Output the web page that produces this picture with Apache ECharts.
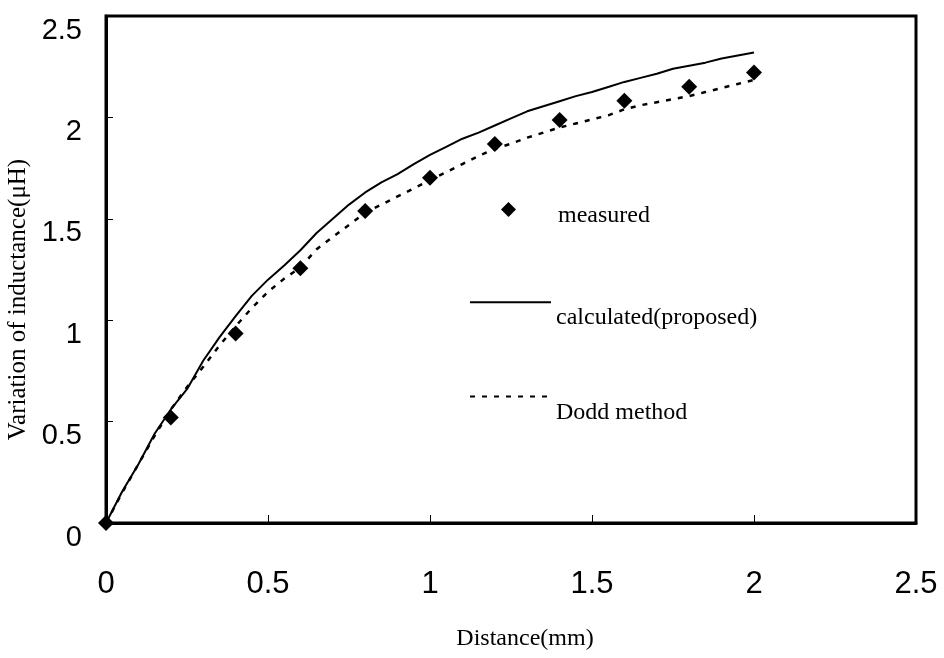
<!DOCTYPE html>
<html>
<head>
<meta charset="utf-8">
<script src="https://cdn.jsdelivr.net/npm/echarts@6/dist/echarts.min.js"></script>
<style>html,body{margin:0;padding:0;background:#fff}#c{width:944px;height:658px}</style>
</head>
<body>
<div id="c"></div>
<script>
// Distance (mm) sample points for the two calculated curves
const curveX = [0,0.05,0.1,0.15,0.2,0.25,0.3,0.35,0.4,0.45,0.5,0.55,0.6,0.65,0.7,0.75,0.8,0.85,0.9,0.95,1.0,1.05,1.1,1.15,1.2,1.25,1.3,1.35,1.4,1.45,1.5,1.55,1.6,1.65,1.7,1.75,1.8,1.85,1.9,1.95,2.0];
const calculatedVals = [0,0.155,0.29,0.44,0.56,0.66,0.80,0.915,1.02,1.12,1.20,1.27,1.345,1.43,1.50,1.57,1.63,1.68,1.72,1.77,1.815,1.855,1.895,1.925,1.96,1.995,2.03,2.055,2.08,2.105,2.125,2.15,2.175,2.195,2.215,2.24,2.255,2.27,2.29,2.305,2.32];
const doddVals = [0,0.15,0.29,0.43,0.56,0.67,0.77,0.875,0.97,1.06,1.14,1.205,1.26,1.35,1.41,1.47,1.53,1.57,1.61,1.65,1.69,1.73,1.77,1.81,1.845,1.87,1.90,1.925,1.95,1.97,1.99,2.01,2.04,2.06,2.075,2.09,2.105,2.125,2.145,2.165,2.185];
// Measured points
const measuredX = [0,0.2,0.4,0.6,0.8,1.0,1.2,1.4,1.6,1.8,2.0];
const measuredVals = [0,0.52,0.935,1.256,1.538,1.703,1.869,1.987,2.082,2.151,2.222];
const seriesNames = ['measured','calculated(proposed)','Dodd method'];

const zip = (xs, ys) => xs.map((x, i) => [x, ys[i]]);
const legendText = {fontFamily: 'Liberation Serif', fontSize: 24, color: '#000'};

const chart = echarts.init(document.getElementById('c'));
chart.setOption({
  animation: false,
  backgroundColor: '#fff',
  grid: {left: 106, right: 28, top: 16, bottom: 135, show: true, borderColor: '#000', borderWidth: 3, outerBoundsMode: 'none'},
  legend: [
    {
      orient: 'vertical', left: 501, top: 202, padding: 0, itemWidth: 15, itemHeight: 15,
      data: [seriesNames[0]],
      formatter: '{a|{name}}',
      textStyle: {rich: {a: Object.assign({padding: [12, 0, 0, 37]}, legendText)}}
    },
    {
      orient: 'vertical', left: 469, top: 297, padding: 0, itemWidth: 81, itemHeight: 13, itemGap: 61,
      data: [seriesNames[1], seriesNames[2]],
      itemStyle: {opacity: 0},
      formatter: '{a|{name}}',
      textStyle: {rich: {a: Object.assign({padding: [32, 0, 0, 0]}, legendText)}}
    }
  ],
  xAxis: {
    type: 'value', min: 0, max: 2.5, interval: 0.5,
    name: 'Distance(mm)', nameLocation: 'middle', nameGap: 104,
    nameTextStyle: {fontFamily: 'Liberation Serif', fontSize: 24, color: '#000', padding: [0, 0, 0, 28]},
    axisLine: {lineStyle: {color: '#000', width: 3}},
    axisTick: {inside: true, length: 8, lineStyle: {color: '#000', width: 1}},
    axisLabel: {margin: 46, fontFamily: 'Liberation Sans Narrow, Liberation Sans', fontSize: 31, color: '#000'},
    splitLine: {show: false}
  },
  yAxis: {
    type: 'value', min: 0, max: 2.5, interval: 0.5,
    name: 'Variation of inductance(μH)', nameLocation: 'middle', nameGap: 67, nameRotate: 90,
    nameTextStyle: {fontFamily: 'Liberation Serif', fontSize: 25, color: '#000', padding: [0, 60, 0, 0]},
    axisLine: {lineStyle: {color: '#000', width: 3}},
    axisTick: {inside: true, length: 7, lineStyle: {color: '#000', width: 1}},
    axisLabel: {margin: 24, fontFamily: 'Liberation Sans', fontSize: 29, color: '#000', verticalAlign: 'top'},
    splitLine: {show: false}
  },
  series: [
    {name: seriesNames[0], type: 'scatter', data: zip(measuredX, measuredVals), symbol: 'diamond', symbolSize: 16, clip: false,
     itemStyle: {color: '#000', opacity: 1}, z: 5},
    {name: seriesNames[1], type: 'line', data: zip(curveX, calculatedVals), symbol: 'none',
     lineStyle: {color: '#000', width: 2}, itemStyle: {color: '#000'}},
    {name: seriesNames[2], type: 'line', data: zip(curveX, doddVals), symbol: 'none',
     lineStyle: {color: '#000', width: 2.5, type: [5, 7]}, itemStyle: {color: '#000'}}
  ]
});
</script>
</body>
</html>
